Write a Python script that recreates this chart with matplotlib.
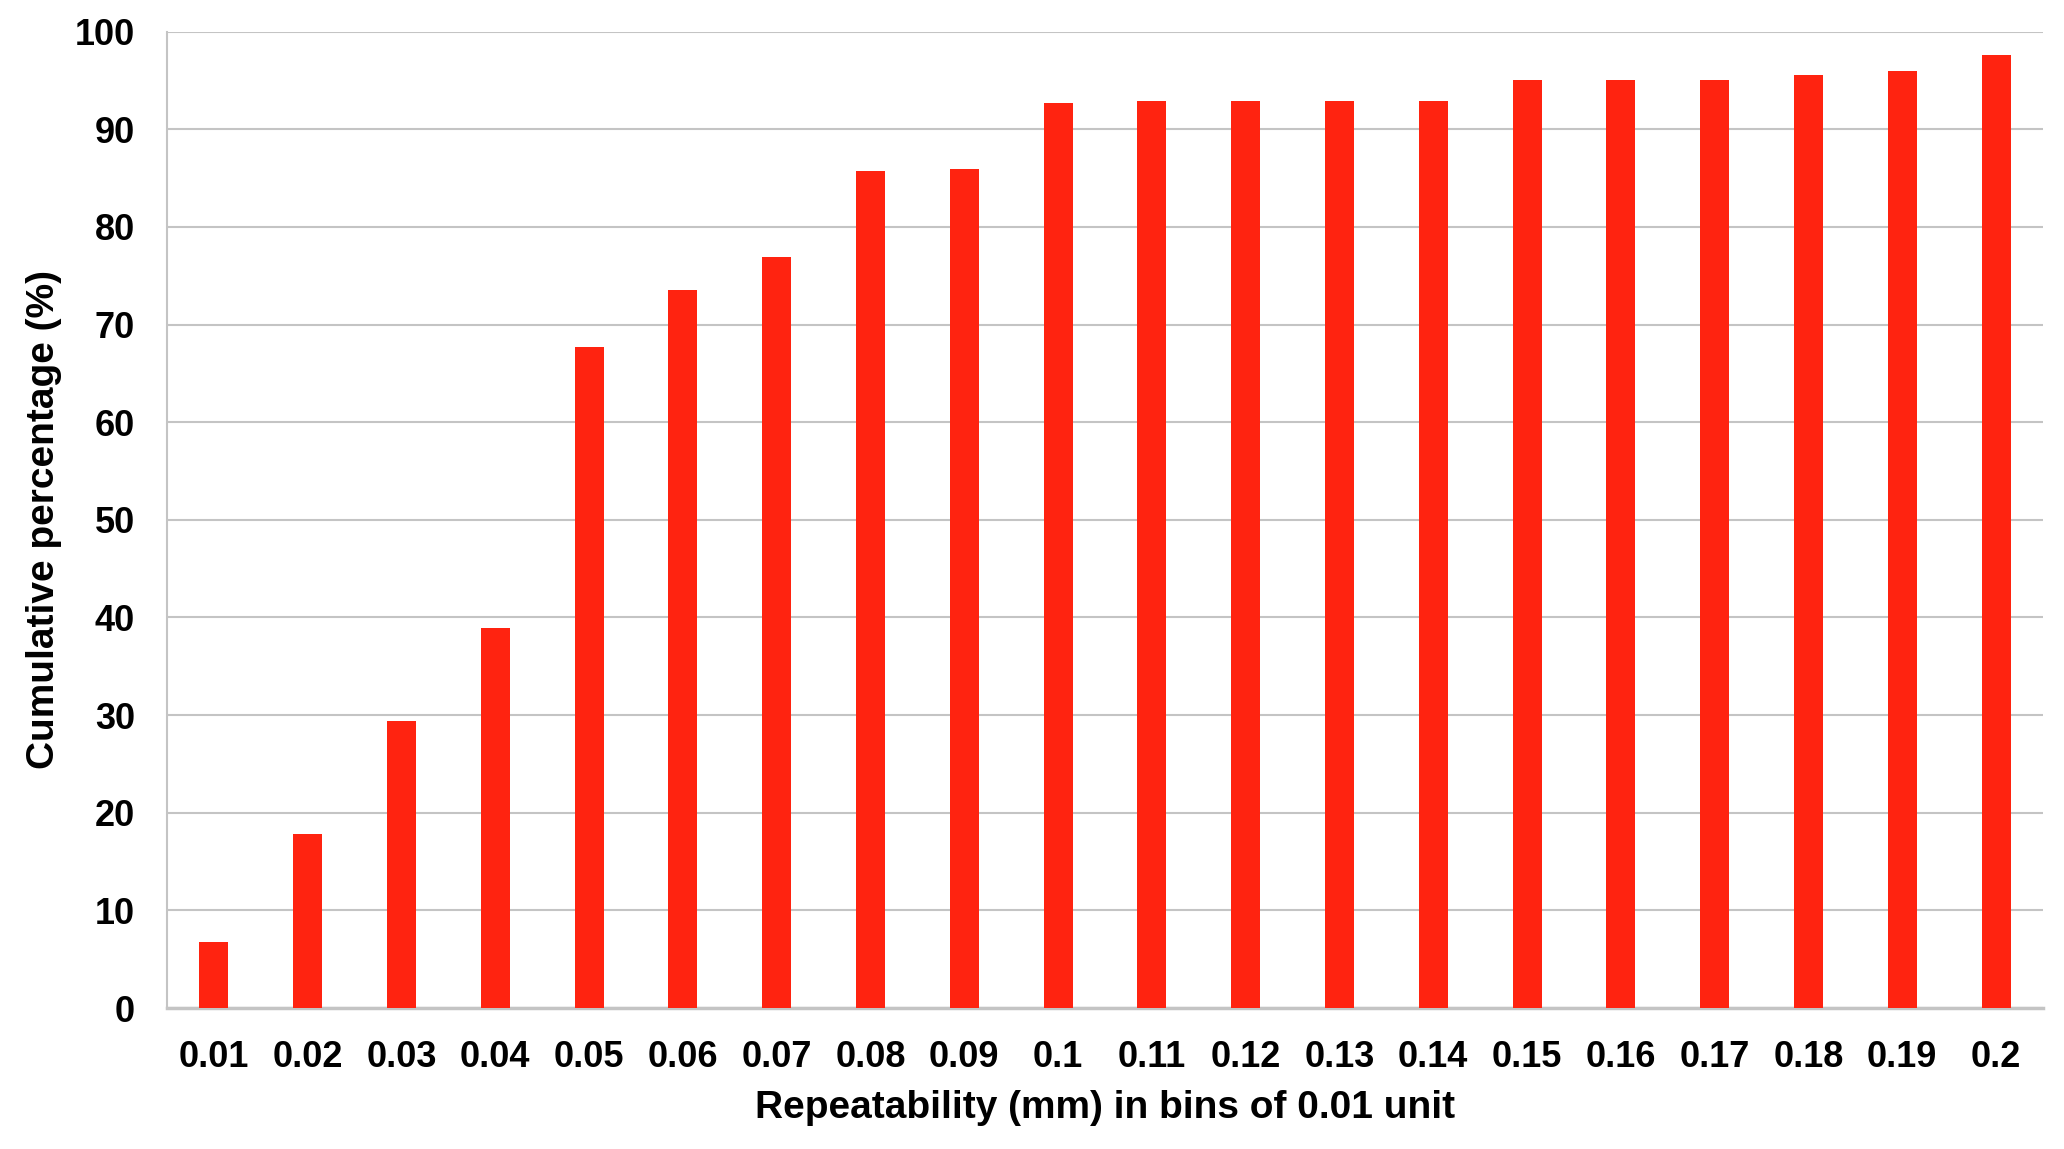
import matplotlib
matplotlib.use("Agg")
import matplotlib.pyplot as plt

categories = ["0.01", "0.02", "0.03", "0.04", "0.05", "0.06", "0.07", "0.08", "0.09", "0.1",
              "0.11", "0.12", "0.13", "0.14", "0.15", "0.16", "0.17", "0.18", "0.19", "0.2"]
cumulative_pct = [6.8, 17.8, 29.4, 38.9, 67.7, 73.5, 76.9, 85.7, 85.9, 92.7,
                  92.9, 92.9, 92.9, 92.9, 95.0, 95.0, 95.0, 95.6, 96.0, 97.6]
y_ticks = [0, 10, 20, 30, 40, 50, 60, 70, 80, 90, 100]

plt.rcParams['font.family'] = ['Liberation Sans', 'DejaVu Sans']
plt.rcParams['font.weight'] = 'bold'

fig = plt.figure(figsize=(20.64, 11.49), dpi=100)
ax = fig.add_axes([0.0809, 0.1227, 0.9089, 0.8498])

x = list(range(len(categories)))
ax.bar(x, cumulative_pct, width=0.31, color='#FF2310', zorder=3)

ax.set_xlim(-0.5, len(categories) - 0.5)
ax.set_ylim(0, 100)
ax.set_yticks(y_ticks)
ax.set_xticks(x)
ax.set_xticklabels(categories)
ax.tick_params(axis='both', length=0, labelsize=26, colors='black')
ax.tick_params(axis='y', pad=23)
ax.tick_params(axis='x', pad=23)
for lbl in ax.get_xticklabels() + ax.get_yticklabels():
    lbl.set_fontweight('bold')

ax.grid(axis='y', color='#C4C4C4', linewidth=1.5, zorder=0)
ax.set_axisbelow(True)
for s in ['top', 'right']:
    ax.spines[s].set_visible(False)
ax.spines['left'].set_color('#C4C4C4')
ax.spines['left'].set_linewidth(1.5)
ax.spines['bottom'].set_color('#C4C4C4')
ax.spines['bottom'].set_linewidth(2.5)

ax.set_xlabel("Repeatability (mm) in bins of 0.01 unit", fontsize=28, fontweight='bold')
ax.set_ylabel("Cumulative percentage (%)", fontsize=28, fontweight='bold')
ax.xaxis.set_label_coords(0.5, -0.084)
ax.yaxis.set_label_coords(-0.056, 0.5)

fig.savefig("out.png", dpi=100, facecolor='white')
